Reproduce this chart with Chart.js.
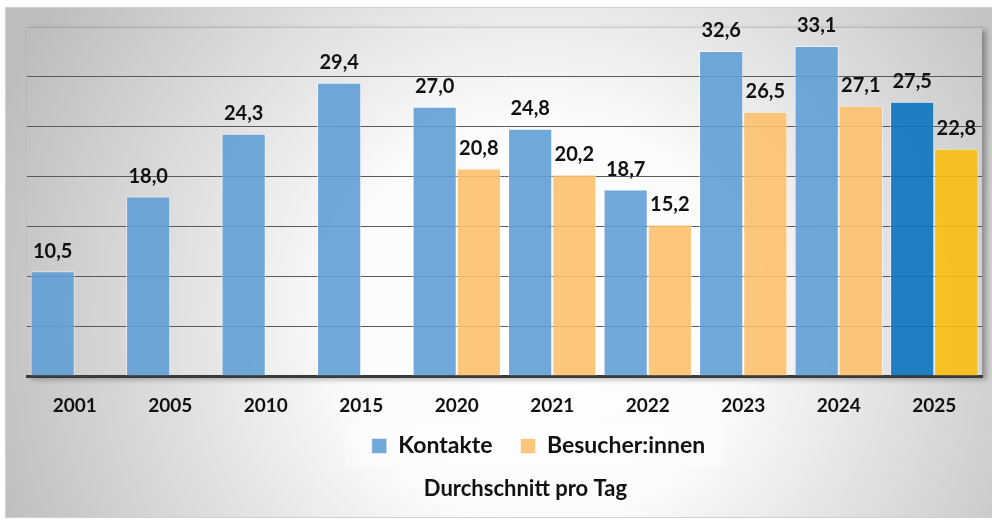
<!DOCTYPE html>
<html lang="de">
<head>
<meta charset="utf-8">
<title>Durchschnitt pro Tag</title>
<script src="https://cdn.jsdelivr.net/npm/chart.js@4.4.1/dist/chart.umd.min.js"></script>
<style>
  html, body { margin: 0; padding: 0; background: #fff; }
  canvas { display: block; }
</style>
</head>
<body>
<canvas id="avgChart" width="992" height="520"></canvas>
<script>
const years = ['2001', '2005', '2010', '2015', '2020', '2021', '2022', '2023', '2024', '2025'];
const kontakte = [10.5, 18.0, 24.3, 29.4, 27.0, 24.8, 18.7, 32.6, 33.1, 27.5];
const besucher = [null, null, null, null, 20.8, 20.2, 15.2, 26.5, 27.1, 22.8];
const yMax = 35;
const yStep = 5;

const FONT = '"Comic Sans MS", Lato, sans-serif';
const LEGEND_SIZE = 23;
const fmt = v => v.toFixed(1).replace('.', ',');
const last = years.length - 1;

// colours (slightly transparent so the grid shows through, like the original)
const blue = 'rgba(97,158,214,0.9)';
const blueHi = 'rgba(11,115,191,0.9)';
const orange = 'rgba(252,192,111,0.9)';
const yellow = 'rgba(249,190,14,0.9)';

function bgGradient(ctx) {
  const g = ctx.createRadialGradient(540, 320, 0, 540, 320, 580);
  g.addColorStop(0, '#ffffff');
  g.addColorStop(0.35, '#fbfbfb');
  g.addColorStop(1, '#bdbdbd');
  return g;
}

function nudge(box, dx, dy) {
  box.left += dx;
  box.right += dx;
  box.top += dy;
  box.bottom += dy;
}

const backdrop = {
  id: 'backdrop',
  afterLayout(chart) {
    // legend and title sit right of centre and a little higher in the original
    nudge(chart.legend, 34, -10);
    nudge(chart.titleBlock, 21, -7);
  },
  beforeDraw(chart) {
    const { ctx, chartArea: a, legend } = chart;
    ctx.save();
    ctx.fillStyle = '#fff';
    ctx.fillRect(0, 0, chart.width, chart.height);
    ctx.fillStyle = bgGradient(ctx);
    ctx.fillRect(5, 7, chart.width - 5, chart.height - 9);
    ctx.strokeStyle = '#d0d0d0';
    ctx.lineWidth = 1;
    ctx.strokeRect(5.5, 7.5, chart.width - 5, chart.height - 10);

    // plot area with drop shadow
    ctx.shadowColor = 'rgba(0,0,0,0.35)';
    ctx.shadowBlur = 6;
    ctx.shadowOffsetX = 4;
    ctx.shadowOffsetY = 3;
    ctx.fillRect(a.left, a.top, a.width, a.height);
    ctx.restore();

    // legend panel
    const cy = legend.top + legend.options.labels.padding + LEGEND_SIZE / 2;
    const cx = (legend.left + legend.right) / 2;
    ctx.save();
    ctx.fillStyle = 'rgba(255,255,255,0.4)';
    ctx.fillRect(cx - 194, cy - 21, 381, 42);
    ctx.restore();
  }
};

const valueLabels = {
  id: 'valueLabels',
  afterDatasetsDraw(chart) {
    const { ctx } = chart;
    ctx.save();
    ctx.font = 'bold 20px ' + FONT;
    ctx.fillStyle = '#111';
    ctx.textAlign = 'center';
    ctx.textBaseline = 'middle';
    chart.data.datasets.forEach((ds, i) => {
      chart.getDatasetMeta(i).data.forEach((bar, j) => {
        const v = ds.data[j];
        if (v == null) return;
        ctx.fillText(fmt(v), bar.x, bar.y - 20);
      });
    });
    ctx.restore();
  }
};

new Chart(document.getElementById('avgChart'), {
  type: 'bar',
  data: {
    labels: years,
    datasets: [
      {
        label: 'Kontakte',
        data: kontakte,
        backgroundColor: years.map((_, i) => i === last ? blueHi : blue),
        borderColor: 'rgba(255,255,255,0.55)',
        borderWidth: 1
      },
      {
        label: 'Besucher:innen',
        data: besucher,
        backgroundColor: years.map((_, i) => i === last ? yellow : orange),
        borderColor: 'rgba(255,255,255,0.55)',
        borderWidth: 1
      }
    ]
  },
  options: {
    responsive: false,
    devicePixelRatio: 1,
    animation: false,
    categoryPercentage: 0.925,
    barPercentage: 1.0,
    layout: { padding: { left: 27, right: 10, top: 27, bottom: 11 } },
    scales: {
      x: {
        grid: { display: false, drawTicks: false },
        border: { display: true, color: '#3a3a3a', width: 3 },
        ticks: { font: { family: FONT, size: 19, weight: 'bold' }, color: '#111', padding: 18 },
        afterFit(scale) { scale.height = 40.5; }
      },
      y: {
        min: 0,
        max: yMax,
        ticks: { display: false, stepSize: yStep },
        border: { display: false },
        grid: {
          drawTicks: false,
          lineWidth: 1,
          color: c => c.tick.value === 0 ? 'rgba(0,0,0,0)' : (c.tick.value === yMax ? 'rgba(0,0,0,0.13)' : '#5a5a5a')
        }
      }
    },
    plugins: {
      legend: {
        position: 'bottom',
        labels: {
          boxWidth: 15,
          boxHeight: 15,
          padding: 28,
          color: '#111',
          font: { family: FONT, size: LEGEND_SIZE, weight: 'bold' }
        }
      },
      title: {
        display: true,
        position: 'bottom',
        text: 'Durchschnitt pro Tag',
        color: '#111',
        font: { family: FONT, size: 22, weight: 'bold' },
        padding: { top: 5.1, bottom: 0 }
      },
      tooltip: { enabled: false }
    }
  },
  plugins: [backdrop, valueLabels]
});
</script>
</body>
</html>
